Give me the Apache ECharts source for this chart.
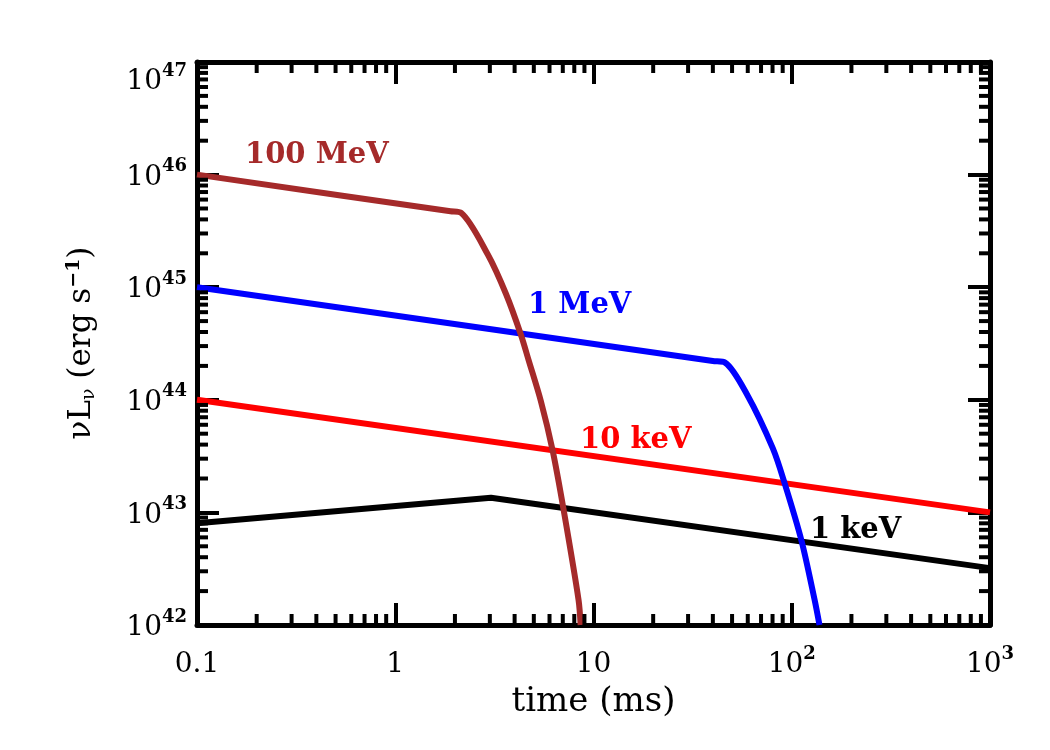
<!DOCTYPE html>
<html>
<head>
<meta charset="utf-8">
<script src="https://cdn.jsdelivr.net/npm/echarts@6/dist/echarts.min.js"></script>
<style>
  html, body { margin: 0; padding: 0; background: #fff; }
  #chart { width: 1050px; height: 750px; }
</style>
</head>
<body>
<div id="chart"></div>
<script>
// 100 MeV
const t100MeV = [0.1, 1.9, 2.15, 2.93, 3.62, 4.30, 4.71, 5.42, 6.22, 7.07, 8.41, 8.61];
const L100MeV = [1e46, 4.72e45, 4.57e45, 1.95e45, 8.7e44, 3.8e44, 2.24e44, 9.8e43, 3.55e43, 1.05e43, 1.66e42, 1e42];
// 1 MeV
const t1MeV = [0.1, 40, 46.1, 59.4, 80.3, 92.2, 112, 130.5, 138];
const L1MeV = [1e45, 2.21e44, 2.14e44, 1.12e44, 3.7e43, 1.8e43, 5.6e42, 1.66e42, 1e42];
// 10 keV
const t10keV = [0.1, 1000];
const L10keV = [1e44, 1e43];
// 1 keV
const t1keV = [0.1, 3.04, 1000];
const L1keV = [8e42, 1.35e43, 3.2e42];

const xTickLabels = ['0.1', '1', '10', '10^2', '10^3'];
const yTickLabels = ['10^42', '10^43', '10^44', '10^45', '10^46', '10^47'];

const xMin = 0.1, xMax = 1000, yMin = 1e42, yMax = 1e47;

const font = 'DejaVu Serif';

// minor tick positions (2..9 within each decade)
const xMinor = [];
for (let e = -1; e < 3; e++) for (let m = 2; m <= 9; m++) xMinor.push(m * Math.pow(10, e));
const yMinor = [];
for (let e = 42; e < 47; e++) for (let m = 2; m <= 9; m++) yMinor.push(m * Math.pow(10, e));

function toRich(s) {
  const p = s.split('^');
  return p.length > 1 ? '{b|' + p[0] + '}{s|' + p[1] + '}' : '{b|' + s + '}';
}

const richTick = {
  b: { fontFamily: font, fontSize: 28, color: '#000', lineHeight: 34, verticalAlign: 'bottom' },
  s: { fontFamily: font, fontSize: 18, fontWeight: 'bold', color: '#000', lineHeight: 34, verticalAlign: 'top' }
};

function pair(t, L) {
  return t.map((v, i) => [v, L[i]]);
}

const chart = echarts.init(document.getElementById('chart'));

const axisLine = { show: true, onZero: false, lineStyle: { color: '#000', width: 5 } };
const majorTick = { show: true, inside: true, length: 22, lineStyle: { color: '#000', width: 4 } };

function minorRender(params, api) {
  const cs = params.coordSys;
  const kind = api.value(2);
  const len = 11;
  const st = { stroke: '#000', lineWidth: 4 };
  if (kind === 0) {
    const px = api.coord([api.value(0), yMin])[0];
    const yb = cs.y + cs.height, yt = cs.y;
    return {
      type: 'group', children: [
        { type: 'line', shape: { x1: px, y1: yb, x2: px, y2: yb - len }, style: st },
        { type: 'line', shape: { x1: px, y1: yt, x2: px, y2: yt + len }, style: st }
      ]
    };
  }
  const py = api.coord([xMin, api.value(1)])[1];
  const xl = cs.x, xr = cs.x + cs.width;
  return {
    type: 'group', children: [
      { type: 'line', shape: { x1: xl, y1: py, x2: xl + len, y2: py }, style: st },
      { type: 'line', shape: { x1: xr, y1: py, x2: xr - len, y2: py }, style: st }
    ]
  };
}

const minorData = xMinor.map(v => [v, yMin, 0]).concat(yMinor.map(v => [xMin, v, 1]));

function lineSeries(name, t, L, color, smooth) {
  return {
    name: name,
    type: 'line',
    data: pair(t, L),
    showSymbol: false,
    smooth: smooth || false,
    lineStyle: { color: color, width: 6 },
    itemStyle: { color: color },
    z: 3
  };
}

const option = {
  animation: false,
  backgroundColor: '#fff',
  grid: { left: 197, right: 60, top: 62, bottom: 125 },
  xAxis: [
    {
      type: 'log', logBase: 10, min: xMin, max: xMax, position: 'bottom',
      axisLine: axisLine, axisTick: majorTick, splitLine: { show: false },
      axisLabel: {
        margin: 20,
        formatter: v => toRich(xTickLabels[Math.round(Math.log10(v)) + 1]),
        rich: richTick
      },
      name: 'time (ms)', nameLocation: 'middle', nameGap: 60,
      nameTextStyle: { fontFamily: font, fontSize: 34, color: '#000' }
    },
    {
      type: 'log', logBase: 10, min: xMin, max: xMax, position: 'top',
      axisLine: axisLine, axisTick: majorTick, splitLine: { show: false },
      axisLabel: { show: false }
    }
  ],
  yAxis: [
    {
      type: 'log', logBase: 10, min: yMin, max: yMax, position: 'left',
      axisLine: axisLine, axisTick: majorTick, splitLine: { show: false },
      axisLabel: {
        margin: 10,
        formatter: v => toRich(yTickLabels[Math.round(Math.log10(v)) - 42]),
        rich: richTick,
        verticalAlignMaxLabel: 'top',
        verticalAlignMinLabel: 'bottom'
      }
    },
    {
      type: 'log', logBase: 10, min: yMin, max: yMax, position: 'right',
      axisLine: axisLine, axisTick: majorTick, splitLine: { show: false },
      axisLabel: { show: false }
    }
  ],
  series: [
    {
      type: 'custom',
      renderItem: minorRender,
      data: minorData,
      clip: false,
      silent: true,
      z: 5
    },
    lineSeries('10 keV', t10keV, L10keV, '#ff0000'),
    lineSeries('1 keV', t1keV, L1keV, '#000000'),
    lineSeries('1 MeV', t1MeV, L1MeV, '#0000ff', 0.3),
    lineSeries('100 MeV', t100MeV, L100MeV, '#a52a2a', 0.3)
  ],
  graphic: [
    {
      type: 'text', x: 82, y: 343, rotation: Math.PI / 2,
      style: {
        text: '{m|νL}{sub|ν}{m| (erg s}{sup|−1}{m|)}',
        align: 'center', verticalAlign: 'middle',
        rich: {
          m: { fontFamily: font, fontSize: 31, fill: '#000', lineHeight: 42, verticalAlign: 'middle' },
          sub: { fontFamily: font, fontSize: 19, fill: '#000', lineHeight: 42, verticalAlign: 'bottom', padding: [0, 0, 4, 0] },
          sup: { fontFamily: font, fontSize: 19, fontWeight: 'bold', fill: '#000', lineHeight: 42, verticalAlign: 'top', padding: [4, 0, 0, 0] }
        }
      }
    },
    { type: 'text', x: 245, y: 155, style: { text: '100 MeV', font: 'bold 29px "DejaVu Serif"', fill: '#a52a2a', verticalAlign: 'middle' } },
    { type: 'text', x: 528, y: 305, style: { text: '1 MeV', font: 'bold 29px "DejaVu Serif"', fill: '#0000ff', verticalAlign: 'middle' } },
    { type: 'text', x: 580, y: 440, style: { text: '10 keV', font: 'bold 29px "DejaVu Serif"', fill: '#ff0000', verticalAlign: 'middle' } },
    { type: 'text', x: 810, y: 530, style: { text: '1 keV', font: 'bold 29px "DejaVu Serif"', fill: '#000000', verticalAlign: 'middle' } }
  ]
};

chart.setOption(option);
</script>
</body>
</html>
